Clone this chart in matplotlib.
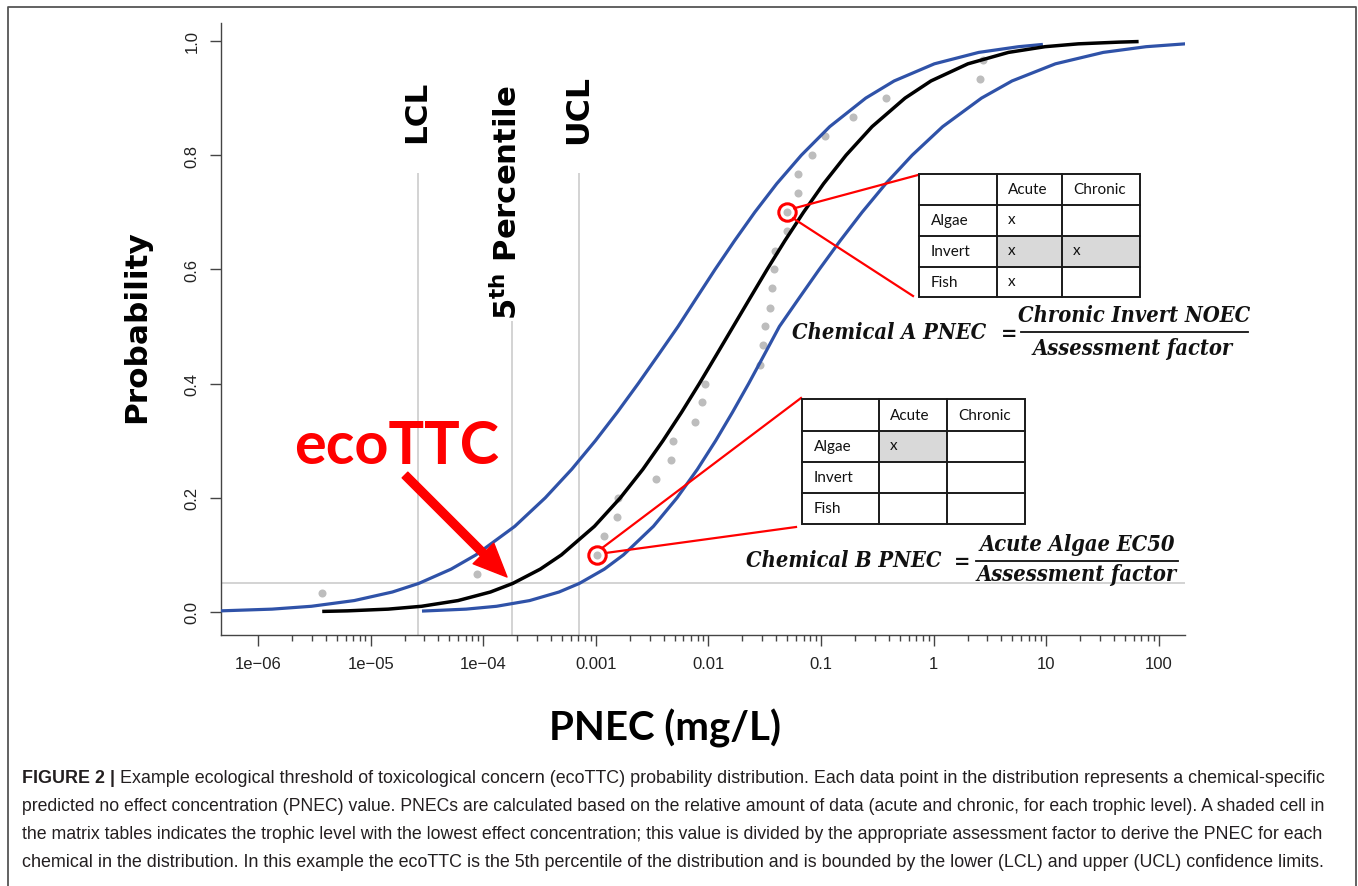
import numpy as np
import matplotlib
matplotlib.use("Agg")
import matplotlib.pyplot as plt
from matplotlib.patches import Rectangle, FancyArrowPatch, ArrowStyle
from matplotlib.lines import Line2D
from matplotlib.transforms import Affine2D
from matplotlib.ticker import FixedLocator, FixedFormatter, NullFormatter

# ---------------- data ----------------
POINT_PNEC = [3.7e-6, 8.8e-5, 1.03e-3, 1.18e-3, 1.54e-3, 1.57e-3, 3.43e-3, 4.66e-3, 4.85e-3,
              7.6e-3, 8.8e-3, 9.3e-3, 0.0287, 0.0305, 0.0318, 0.0352, 0.0367, 0.0383, 0.0390,
              0.0495, 0.0500, 0.0625, 0.0630, 0.083, 0.108, 0.192, 0.378, 2.58, 2.75]
POINT_PROB = [0.033, 0.067, 0.100, 0.133, 0.167, 0.200, 0.233, 0.267, 0.300, 0.333, 0.367,
              0.400, 0.433, 0.467, 0.500, 0.533, 0.567, 0.600, 0.633, 0.667, 0.700, 0.733,
              0.767, 0.800, 0.833, 0.867, 0.900, 0.933, 0.967]
CIRCLED_A = 20   # Chemical A point
CIRCLED_B = 2    # Chemical B point

FIT_LOG10_PNEC = [-5.43, -5.205, -4.845, -4.548, -4.224, -3.936, -3.738, -3.494, -3.306, -3.013,
                  -2.782, -2.582, -2.404, -2.238, -2.081, -1.930, -1.780, -1.630, -1.479, -1.322,
                  -1.156, -0.978, -0.778, -0.547, -0.254, -0.024, 0.304, 0.664, 0.988, 1.285,
                  1.645, 1.82]
FIT_PROB = [0.001, 0.002, 0.005, 0.01, 0.02, 0.035, 0.05, 0.075, 0.1, 0.15, 0.2, 0.25, 0.3,
            0.35, 0.4, 0.45, 0.5, 0.55, 0.6, 0.65, 0.7, 0.75, 0.8, 0.85, 0.9, 0.93, 0.96, 0.98,
            0.99, 0.995, 0.998, 0.999]

LOWER_LOG10_PNEC = [-6.33, -5.876, -5.526, -5.146, -4.807, -4.573, -4.286, -4.065, -3.720,
                    -3.449, -3.214, -3.004, -2.809, -2.624, -2.446, -2.270, -2.106, -1.941,
                    -1.769, -1.589, -1.394, -1.175, -0.923, -0.603, -0.351, 0.006, 0.400,
                    0.754, 0.97]
LOWER_PROB = [0.002, 0.005, 0.01, 0.02, 0.035, 0.05, 0.075, 0.1, 0.15, 0.2, 0.25, 0.3, 0.35,
              0.4, 0.45, 0.5, 0.55, 0.6, 0.65, 0.7, 0.75, 0.8, 0.85, 0.9, 0.93, 0.96, 0.98,
              0.99, 0.994]

UPPER_LOG10_PNEC = [-4.544, -4.152, -3.882, -3.588, -3.327, -3.147, -2.925, -2.755, -2.489,
                    -2.279, -2.098, -1.936, -1.786, -1.643, -1.506, -1.370, -1.194, -1.016,
                    -0.831, -0.636, -0.426, -0.191, 0.080, 0.425, 0.696, 1.081, 1.506, 1.886,
                    2.233]
UPPER_PROB = [0.0016, 0.005, 0.01, 0.02, 0.035, 0.05, 0.075, 0.1, 0.15, 0.2, 0.25, 0.3, 0.35,
              0.4, 0.45, 0.5, 0.55, 0.6, 0.65, 0.7, 0.75, 0.8, 0.85, 0.9, 0.93, 0.96, 0.98,
              0.99, 0.995]

LCL_PNEC = 2.64e-5
P5_PNEC = 1.80e-4
UCL_PNEC = 7.1e-4
P5_PROB = 0.05

X_TICKS = [1e-6, 1e-5, 1e-4, 1e-3, 1e-2, 1e-1, 1, 10, 100]
X_TICK_LABELS = ["1e\u221206", "1e\u221205", "1e\u221204", "0.001", "0.01", "0.1", "1", "10", "100"]
Y_TICKS = [0.0, 0.2, 0.4, 0.6, 0.8, 1.0]
Y_TICK_LABELS = ["0.0", "0.2", "0.4", "0.6", "0.8", "1.0"]

TABLE_HEADER = ["", "Acute", "Chronic"]
TABLE_ROWS = ["Algae", "Invert", "Fish"]
CHEM_A_MARKS = [["x", ""], ["x", "x"], ["x", ""]]
CHEM_A_SHADED = [(1, 0), (1, 1)]
CHEM_B_MARKS = [["x", ""], ["", ""], ["", ""]]
CHEM_B_SHADED = [(0, 0)]

FORMULA_A = ("Chemical A PNEC", "Chronic Invert NOEC", "Assessment factor")
FORMULA_B = ("Chemical B PNEC", "Acute Algae EC50", "Assessment factor")

CAPTION_BOLD = "FIGURE 2 |"
CAPTION_LINES = [
    "Example ecological threshold of toxicological concern (ecoTTC) probability distribution. Each data point in the distribution represents a chemical-specific",
    "predicted no effect concentration (PNEC) value. PNECs are calculated based on the relative amount of data (acute and chronic, for each trophic level). A shaded cell in",
    "the matrix tables indicates the trophic level with the lowest effect concentration; this value is divided by the appropriate assessment factor to derive the PNEC for each",
    "chemical in the distribution. In this example the ecoTTC is the 5th percentile of the distribution and is bounded by the lower (LCL) and upper (UCL) confidence limits.",
]

# ---------------- figure ----------------
W, H = 1358, 887
fig = plt.figure(figsize=(W / 100, H / 100), dpi=100)
fig.patch.set_facecolor("white")
renderer = fig.canvas.get_renderer()
PIX = Affine2D().scale(1, -1).translate(0, H)   # pixel coords, y measured from top

BLUE = "#2f52a8"
GRAY_LINE = "#c8c8c8"
DOT = "#bdbdbd"
RED = "#ff0000"
AXC = "#444444"

ax = fig.add_axes([221 / W, 1 - 636 / H, 964 / W, 612 / H])
ax.set_xscale("log")
ax.set_xlim(10 ** -6.329, 10 ** 2.232)
ax.set_ylim(-0.0403, 1.0315)
ax.set_facecolor("none")
for s in ("top", "right"):
    ax.spines[s].set_visible(False)
for s in ("left", "bottom"):
    ax.spines[s].set_linewidth(1.0)
    ax.spines[s].set_color(AXC)

ax.xaxis.set_major_locator(FixedLocator(X_TICKS))
ax.xaxis.set_major_formatter(FixedFormatter(X_TICK_LABELS))
minor = [m * d for d in X_TICKS[:-1] for m in range(2, 10)] + [m * 100 for m in range(2, 10)]
ax.xaxis.set_minor_locator(FixedLocator([v for v in minor if v < 10 ** 2.232]))
ax.xaxis.set_minor_formatter(NullFormatter())
ax.yaxis.set_major_locator(FixedLocator(Y_TICKS))
ax.yaxis.set_major_formatter(FixedFormatter(Y_TICK_LABELS))

ax.tick_params(axis="both", which="major", direction="out", length=7.8, width=1.0,
               color=AXC, labelsize=12, labelcolor="#222222", pad=7.5)
ax.tick_params(axis="x", which="minor", direction="out", length=4.3, width=1.0, color=AXC)
ax.tick_params(axis="y", labelrotation=90, pad=7.5)
for lab in ax.get_xticklabels() + ax.get_yticklabels():
    lab.set_fontfamily("Liberation Sans")
for lab in ax.get_yticklabels():
    lab.set_va("center")

y0 = ax.get_ylim()[0]
ax.axhline(P5_PROB, color=GRAY_LINE, lw=1.1, zorder=1)
ax.vlines([LCL_PNEC, UCL_PNEC], y0, 0.768, color=GRAY_LINE, lw=1.1, zorder=1)
ax.vlines([P5_PNEC], y0, 0.51, color=GRAY_LINE, lw=1.1, zorder=1)

ax.plot(POINT_PNEC, POINT_PROB, "o", ms=5.8, color=DOT, mec="none", zorder=2)
ax.plot(10 ** np.array(LOWER_LOG10_PNEC), LOWER_PROB, color=BLUE, lw=2.3, zorder=3,
        solid_capstyle="butt", clip_on=True)
ax.plot(10 ** np.array(UPPER_LOG10_PNEC), UPPER_PROB, color=BLUE, lw=2.3, zorder=3,
        solid_capstyle="butt")
ax.plot(10 ** np.array(FIT_LOG10_PNEC), FIT_PROB, color="black", lw=2.5, zorder=4,
        solid_capstyle="butt")

for idx in (CIRCLED_A, CIRCLED_B):
    ax.plot([POINT_PNEC[idx]], [POINT_PROB[idx]], "o", ms=12.5, mfc="none", mec=RED,
            mew=2.2, zorder=6)


def to_pix(xd, yd):
    x, y = ax.transData.transform((xd, yd))
    return x, H - y


def pline(xs, ys, **kw):
    fig.add_artist(Line2D(xs, ys, transform=PIX, **kw))


def fit_text(x, y, s, length, size0=20, rotation=0, **kw):
    t = fig.text(x, y, s, transform=PIX, fontsize=size0, rotation=rotation, **kw)
    bb = t.get_window_extent(renderer)
    L = bb.height if rotation == 90 else bb.width
    t.set_fontsize(size0 * length / L)
    return t


# red connector lines
ax_cx, ax_cy = to_pix(POINT_PNEC[CIRCLED_A], POINT_PROB[CIRCLED_A])
pline([ax_cx + 7, 918], [ax_cy - 4, 176], color=RED, lw=1.6, zorder=7)
pline([ax_cx + 6, 913], [ax_cy + 6, 297], color=RED, lw=1.6, zorder=7)
bx_cx, bx_cy = to_pix(POINT_PNEC[CIRCLED_B], POINT_PROB[CIRCLED_B])
pline([bx_cx + 5, 801], [bx_cy - 7, 399], color=RED, lw=1.6, zorder=7)
pline([bx_cx + 9, 796], [bx_cy - 2, 528], color=RED, lw=1.6, zorder=7)


# tables
def draw_table(cols, rows, marks, shaded):
    for (r, c) in shaded:
        x0, x1 = cols[c + 1], cols[c + 2]
        yt, yb = rows[r + 1], rows[r + 2]
        fig.add_artist(Rectangle((x0, yt), x1 - x0, yb - yt, transform=PIX,
                                 facecolor="#d9d9d9", edgecolor="none", zorder=8))
    fig.add_artist(Rectangle((cols[0], rows[0]), cols[-1] - cols[0], rows[-1] - rows[0],
                             transform=PIX, facecolor="none", edgecolor="#1a1a1a",
                             lw=1.4, zorder=9))
    for xc in cols[1:-1]:
        pline([xc, xc], [rows[0], rows[-1]], color="#1a1a1a", lw=1.4, zorder=9)
    for yr in rows[1:-1]:
        pline([cols[0], cols[-1]], [yr, yr], color="#1a1a1a", lw=1.4, zorder=9)
    kw = dict(transform=PIX, fontsize=11, family="Lato", color="#111111",
              va="center", ha="left", zorder=10)
    for c, txt in enumerate(TABLE_HEADER):
        if txt:
            fig.text(cols[c] + 11, (rows[0] + rows[1]) / 2, txt, **kw)
    for r, txt in enumerate(TABLE_ROWS):
        yc = (rows[r + 1] + rows[r + 2]) / 2
        fig.text(cols[0] + 12, yc, txt, **kw)
        for c in range(2):
            if marks[r][c]:
                fig.text(cols[c + 1] + 11, yc - 1, marks[r][c], **kw)


draw_table([919, 997, 1062, 1140], [175, 206, 237, 268, 298], CHEM_A_MARKS, CHEM_A_SHADED)
draw_table([802, 879, 947, 1025], [400, 432, 463, 494, 525], CHEM_B_MARKS, CHEM_B_SHADED)

# formulas
fkw = dict(family="DejaVu Serif", style="italic", weight="bold", stretch="condensed",
           color="#111111", va="center")
tmp = fit_text(0, -100, "Assessment factor", 200, **fkw)
fsize = tmp.get_fontsize()
tmp.remove()


def formula(parts, left_right, left_y, eq_x, num_xy, den_xy, bar):
    fig.text(left_right, left_y, parts[0], transform=PIX, fontsize=fsize, ha="right", **fkw)
    fig.text(eq_x, left_y + 1, "=", transform=PIX, fontsize=fsize, ha="center", **fkw)
    fig.text(num_xy[0], num_xy[1], parts[1], transform=PIX, fontsize=fsize, ha="center", **fkw)
    fig.text(den_xy[0], den_xy[1], parts[2], transform=PIX, fontsize=fsize, ha="center", **fkw)
    pline([bar[0], bar[1]], [bar[2], bar[2]], color="#111111", lw=1.3)


formula(FORMULA_A, 986, 333, 1009, (1134, 316), (1133, 349), (1021, 1248, 333))
formula(FORMULA_B, 942, 561, 962, (1077, 545), (1077, 575), (976, 1178, 562))

# vertical annotations
tkw = dict(family="DejaVu Sans", weight="bold", color="black", ha="center", va="center",
           rotation=90)
fit_text(417, 112, "LCL", 62, **tkw)
fit_text(579, 110, "UCL", 69, **tkw)
fit_text(507, 203, r"5$^{\mathbf{th}}$ Percentile", 235, **tkw)
fit_text(137, 327, "Probability", 193, **tkw)

# axis title
fit_text(665, 728, "PNEC (mg/L)", 232, family="Lato", weight="bold", color="black",
         ha="center", va="center")

# ecoTTC label and arrow
fit_text(397, 447, "ecoTTC", 205, family="Lato", weight="bold", color=RED,
         ha="center", va="center")
arrow = FancyArrowPatch(posA=(405, 476), posB=(507, 578), transform=PIX,
                        arrowstyle=ArrowStyle.Simple(head_length=24, head_width=21,
                                                     tail_width=5.8),
                        mutation_scale=1, color=RED, shrinkA=0, shrinkB=0, zorder=6)
fig.add_artist(arrow)

# caption
ckw = dict(family="Liberation Sans", color="#231f20", va="center", ha="left")
cap_y = [779, 807, 835, 863]
s0 = 14
tb = fig.text(22, cap_y[0], CAPTION_BOLD, transform=PIX, fontsize=s0, weight="bold", **ckw)
wb = tb.get_window_extent(renderer).width
gap = 6
tr = fig.text(22 + wb + gap, cap_y[0], CAPTION_LINES[0], transform=PIX, fontsize=s0, **ckw)
wr = tr.get_window_extent(renderer).width
scale = 1311 / (wb + gap + wr)
tb.set_fontsize(s0 * scale)
tr.set_fontsize(s0 * scale)
tr.set_x(22 + (wb + gap) * scale)
for i in range(1, 4):
    fit_text(22, cap_y[i], CAPTION_LINES[i], 1311 if i < 3 else 1309, size0=s0, **ckw)

# outer frame
pline([8, 8, 1356, 1356], [887, 8, 8, 887], color="#555555", lw=1.3)

fig.savefig("out.png", dpi=100, facecolor="white")
